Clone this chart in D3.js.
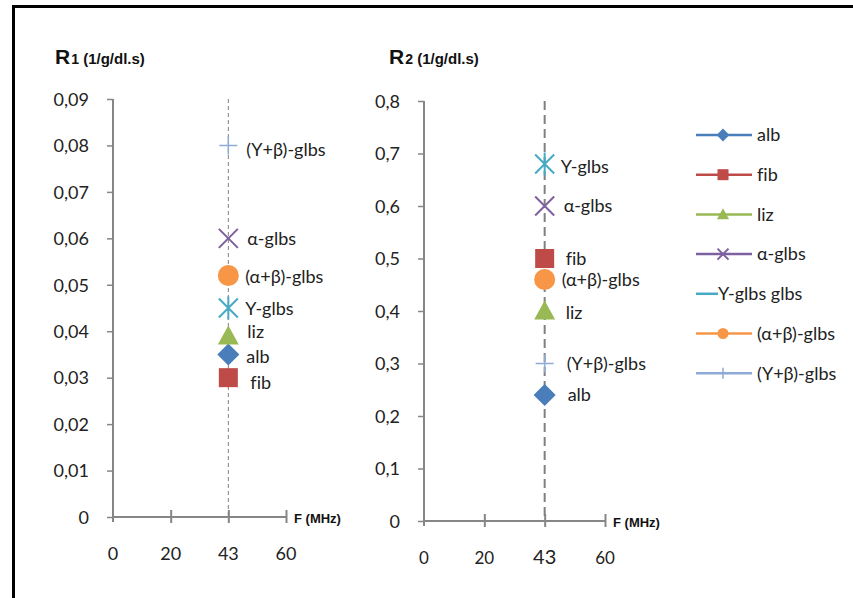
<!DOCTYPE html>
<html>
<head>
<meta charset="utf-8">
<script src="https://cdn.jsdelivr.net/npm/d3@7"></script>
<style>
    body{ margin:0; background:#fff; }
    text{ font-variant-ligatures:none; }
    .tick-lbl{ font-family: Lato, "Open Sans", sans-serif; font-size:18px; fill:#222; }
    .pt-lbl{ font-family: Lato, "Open Sans", sans-serif; font-size:18px; fill:#222; }
    .unit{ font-family: "Liberation Sans", Arial, sans-serif; font-weight:bold; fill:#111; }
</style>
</head>
<body>
<div id="chart"></div>
<script>
// x categories (equally spaced in the original)
var freqs = ["0", "20", "43", "60"];
var xValue = "43";

// series names
var series = ["alb", "fib", "liz", "α-glbs", "Υ-glbs", "(α+β)-glbs", "(Υ+β)-glbs"];

// R1 values (1/g/dl.s)
var r1Values = [0.035, 0.030, 0.039, 0.060, 0.045, 0.052, 0.080];
var r1Ticks = [0, 0.01, 0.02, 0.03, 0.04, 0.05, 0.06, 0.07, 0.08, 0.09];

// R2 values (1/g/dl.s)
var r2Values = [0.24, 0.50, 0.40, 0.60, 0.68, 0.46, 0.30];
var r2Ticks = [0, 0.1, 0.2, 0.3, 0.4, 0.5, 0.6, 0.7, 0.8];

var legendNames = ["alb", "fib", "liz", "α-glbs", "Υ-glbs glbs", "(α+β)-glbs", "(Υ+β)-glbs"];

var colors = ["#4a7ebb", "#be4b48", "#98b954", "#7d60a0", "#46aac5", "#f79646", "#8eaad6"];
var shapes = ["diamond", "square", "triangle", "x", "star", "circle", "plus"];

var W = 853, H = 598;
var svg = d3.select("#chart").append("svg")
    .attr("width", W).attr("height", H);

svg.append("rect").attr("width", W).attr("height", H).attr("fill", "#fff");
// frame (left + top edges)
svg.append("path")
    .attr("d", "M13.5,598 L13.5,6.5 L853,6.5")
    .attr("fill", "none").attr("stroke", "#000").attr("stroke-width", 3);

function drawMarker(g, shape, color, size) {
    var s = size;
    if (shape == "diamond") {
        var d = s * 0.58;
        g.append("path").attr("d", "M0," + (-d) + "L" + d + ",0L0," + d + "L" + (-d) + ",0Z").attr("fill", color);
    } else if (shape == "square") {
        g.append("rect").attr("x", -s / 2).attr("y", -s / 2).attr("width", s).attr("height", s).attr("fill", color);
    } else if (shape == "triangle") {
        g.append("path").attr("d", "M0," + (-s * 0.55) + "L" + (s * 0.55) + "," + (s * 0.45) + "L" + (-s * 0.55) + "," + (s * 0.45) + "Z").attr("fill", color);
    } else if (shape == "circle") {
        g.append("circle").attr("r", s / 2).attr("fill", color);
    } else if (shape == "x") {
        var h = s / 2;
        g.append("path").attr("d", "M" + (-h) + "," + (-h) + "L" + h + "," + h + "M" + (-h) + "," + h + "L" + h + "," + (-h))
            .attr("stroke", color).attr("stroke-width", 2);
    } else if (shape == "star") {
        var h2 = s / 2;
        g.append("path").attr("d", "M" + (-h2) + "," + (-h2) + "L" + h2 + "," + h2 + "M" + (-h2) + "," + h2 + "L" + h2 + "," + (-h2) + "M0," + (-h2 * 1.2) + "L0," + (h2 * 1.2))
            .attr("stroke", color).attr("stroke-width", 2);
    } else if (shape == "plus") {
        var h3 = s / 2;
        g.append("path").attr("d", "M" + (-h3) + ",0L" + h3 + ",0M0," + (-h3) + "L0," + h3)
            .attr("stroke", color).attr("stroke-width", 1.5);
    }
}

function drawPanel(opt) {
    var g = svg.append("g");
    var x = d3.scalePoint().domain(freqs).range([opt.left, opt.right]);
    var y = d3.scaleLinear().domain([0, d3.max(opt.ticks)]).range([opt.bottom, opt.top]);

    // y axis
    var yAxis = g.append("g")
        .attr("transform", "translate(" + opt.left + ",0)")
        .call(d3.axisLeft(y).tickValues(opt.ticks).tickSize(6).tickPadding(18)
            .tickFormat(function(d) { return d == 0 ? "0" : d3.format(opt.fmt)(d).replace(".", ","); }));
    yAxis.select(".domain").attr("stroke", "#868686").attr("stroke-width", 2)
        .attr("d", "M0," + (opt.top) + "H0V" + (opt.bottom + 5));
    yAxis.selectAll(".tick line").attr("stroke", "#868686").attr("stroke-width", 1.5);
    yAxis.selectAll(".tick text").attr("class", "tick-lbl").attr("dy", "0.35em");

    // x axis (cross ticks)
    var xAxis = g.append("g")
        .attr("transform", "translate(0," + opt.bottom + ")")
        .call(d3.axisBottom(x).tickSize(0).tickPadding(0).tickFormat(""));
    xAxis.select(".domain").attr("stroke", "#868686").attr("stroke-width", 2)
        .attr("d", "M" + opt.left + ",0H" + opt.right);
    xAxis.selectAll(".tick").filter(function(d) { return d != "0"; }).append("line")
        .attr("y1", -7).attr("y2", 6).attr("stroke", "#868686").attr("stroke-width", 2);
    g.selectAll(".xlbl").data(freqs).enter().append("text")
        .attr("class", "tick-lbl")
        .attr("x", function(d) { return x(d); })
        .attr("y", opt.bottom + 43)
        .attr("text-anchor", "middle")
        .style("font-size", function(d) { return (opt.bigMid && d == xValue) ? "20px" : (opt.bigMid ? "17px" : "18px"); })
        .text(function(d) { return d; });

    g.append("text").attr("class", "unit")
        .attr("x", opt.right + 8).attr("y", opt.bottom + 6)
        .style("font-size", "13px").text("F (MHz)");

    // dashed line at 43
    g.append("line")
        .attr("x1", x(xValue)).attr("x2", x(xValue))
        .attr("y1", opt.top).attr("y2", opt.bottom)
        .attr("stroke", "#808080").attr("stroke-width", opt.dashW)
        .attr("stroke-dasharray", opt.dash);

    // title
    var t = g.append("text").attr("class", "unit").attr("x", opt.titleX).attr("y", 64);
    t.append("tspan").style("font-size", "21px").text("R");
    t.append("tspan").style("font-size", "14px").attr("dx", 1).text(opt.sub);
    t.append("tspan").style("font-size", "15px").text(" (1/g/dl.s)");

    // markers
    opt.values.forEach(function(v, i) {
        var m = g.append("g").attr("transform", "translate(" + x(xValue) + "," + y(v) + ")");
        var sz = (shapes[i] == "plus") ? 18 : (shapes[i] == "circle" ? 21 : 19);
        drawMarker(m, shapes[i], colors[i], sz);
        g.append("text").attr("class", "pt-lbl")
            .attr("x", x(xValue) + opt.lblDx[i])
            .attr("y", y(v) + opt.lblDy[i])
            .attr("dy", "0.35em")
            .text(series[i]);
    });
}

drawPanel({
    left: 113, right: 286, top: 99, bottom: 517,
    values: r1Values, ticks: r1Ticks, fmt: ".2f", sub: "1", titleX: 55,
    dash: "4,3", dashW: 1, bigMid: false,
    lblDx: [18, 22, 19, 19, 17, 17, 18],
    lblDy: [2, 5, -4, 0, 1, 1, 4]
});

drawPanel({
    left: 424, right: 605, top: 101, bottom: 521,
    values: r2Values, ticks: r2Ticks, fmt: ".1f", sub: "2", titleX: 389,
    dash: "9,5", dashW: 2, bigMid: true,
    lblDx: [23, 21, 21, 19, 16, 17, 22],
    lblDy: [0, 0, 2, 0, 3, 0, 0]
});

// legend
var legend = svg.append("g");
legendNames.forEach(function(name, i) {
    var ly = 135 + i * 39.7;
    var row = legend.append("g").attr("transform", "translate(0," + ly + ")");
    var short = (i == 4);
    row.append("line").attr("x1", 696).attr("x2", short ? 718 : 752)
        .attr("stroke", colors[i]).attr("stroke-width", 2.5);
    if (!short) {
        var m = row.append("g").attr("transform", "translate(723,0)");
        drawMarker(m, shapes[i], colors[i], 11);
    }
    row.append("text").attr("class", "pt-lbl")
        .attr("x", short ? 718 : 757).attr("dy", "0.35em")
        .text(name);
});
</script>
</body>
</html>
